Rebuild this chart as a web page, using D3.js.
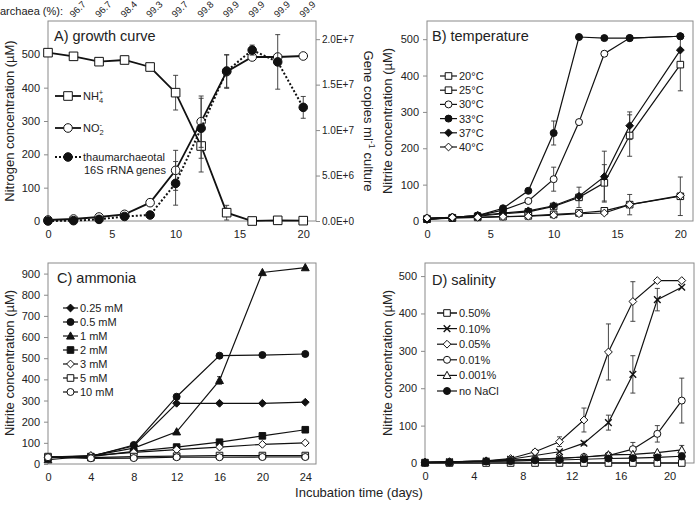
<!DOCTYPE html>
<html><head><meta charset="utf-8">
<script src="https://cdn.jsdelivr.net/npm/d3@7"></script>
<style>
body{margin:0;background:#fff}
text{font-family:"Liberation Sans",Arial,sans-serif;fill:#222}
</style>
</head><body><svg id="c" width="696" height="505"></svg>
<script>
// ---------- Panel A: growth curve ----------
const daysA = [0,2,4,6,8,10,12,14,16,18,20];
const nh4   = [505,494,478,483,462,385,225,25,0,2,1];
const nh4Err= [0,0,0,0,0,52,78,22,0,0,0];
const no2   = [3,6,12,20,55,152,298,448,492,492,495];
const no2Err= [0,0,0,0,10,60,77,50,0,0,0];
const genes = [0,3.7e4,1.8e5,5.0e5,6.6e5,4.14e6,1.02e7,1.65e7,1.88e7,1.75e7,1.25e7];
const genesErr=[0,0,0,0,3e5,2.4e6,3.3e6,1.8e6,5.5e5,3.0e6,1.2e6];
const archaeaDays = [2,4,6,8,10,12,14,16,18,20];
const archaeaPct  = ["96.7","96.7","98.4","99.3","99.7","99.8","99.9","99.9","99.9","99.9"];
const ticksA = [0,5,10,15,20];
const yTicksA = [0,100,200,300,400,500];
const yTicksA2 = [0,5e6,1e7,1.5e7,2e7];

// ---------- Panel B: temperature ----------
const daysB = [0,2,4,6,8,10,12,14,16,20];
const t20 = [5,8,10,12,14,18,22,28,45,68];
const t25 = [5,9,13,20,25,40,65,105,235,430];
const t30 = [8,10,15,30,55,115,272,460,503,508];
const t33 = [5,10,15,35,83,242,506,503,503,508];
const t37 = [4,10,15,22,28,42,68,122,262,470];
const t40 = [8,10,10,12,13,16,20,22,45,70];
const t20Err = [0,0,0,0,0,0,0,0,0,53];
const t25Err = [0,0,0,0,0,0,28,50,57,72];
const t30Err = [0,0,0,0,0,33,0,0,0,0];
const t33Err = [0,0,0,0,0,33,0,0,0,0];
const t37Err = [0,0,0,0,0,0,0,70,38,0];
const t40Err = [0,0,0,0,0,0,0,0,28,0];
const ticksB = [0,5,10,15,20];
const yTicksB = [0,100,200,300,400,500];

// ---------- Panel C: ammonia ----------
const daysC = [0,4,8,12,16,20,24];
const a025 = [30,38,85,287,287,287,292];
const a05  = [30,35,90,318,512,515,520];
const a1   = [20,38,75,152,395,905,928];
const a2   = [30,35,60,80,103,133,162];
const a3   = [33,40,55,68,80,93,100];
const a5   = [35,30,35,37,40,40,40];
const a10  = [32,27,28,32,32,33,33];
const a1Err= [0,0,0,0,18,0,0];
const ticksC = [0,4,8,12,16,20,24];
const yTicksC = [0,100,200,300,400,500,600,700,800,900];

// ---------- Panel D: salinity ----------
const daysD = [0,2,5,7,9,11,13,15,17,19,21];
const s050  = [0,0,0,0,0,0,0,0,0,0,0];
const s010  = [2,3,5,10,20,30,53,108,237,437,470];
const s005  = [2,3,6,12,30,57,115,297,432,488,488];
const s001  = [2,3,5,8,10,12,16,20,37,78,167];
const s0001 = [2,3,5,7,10,13,16,22,23,28,35];
const sNo   = [1,2,4,5,7,8,10,12,13,15,18];
const s010Err  = [0,0,0,0,0,0,5,20,50,30,0];
const s005Err  = [0,0,0,0,6,13,32,75,53,0,0];
const s001Err  = [0,0,0,0,0,0,0,0,18,22,60];
const s0001Err = [0,0,0,0,0,0,0,0,0,0,12];
const ticksD = [0,4,8,12,16,20];
const yTicksD = [0,100,200,300,400,500];

// ---------- drawing ----------
const svg = d3.select("#c");
const FRAME = "#8a8a8a";

function symPath(type, r){
  switch(type){
    case "circle": return `M${-r},0A${r},${r} 0 1,0 ${r},0A${r},${r} 0 1,0 ${-r},0Z`;
    case "square": return `M${-r},${-r}H${r}V${r}H${-r}Z`;
    case "diamond": { const q=r*1.3; return `M0,${-q}L${q},0L0,${q}L${-q},0Z`; }
    case "triangle": { const q=r*1.25; return `M0,${-q}L${q*0.95},${q*0.75}L${-q*0.95},${q*0.75}Z`; }
    case "x": return `M${-r},${-r}L${r},${r}M${-r},${r}L${r},${-r}`;
  }
}

function panel(o){
  const x = d3.scaleLinear().domain(o.xd).range([o.x0,o.x1]);
  const y = d3.scaleLinear().domain(o.yd).range([o.y1,o.y0]);
  const g = svg.append("g");
  g.append("rect").attr("x",o.x0).attr("y",o.y0).attr("width",o.x1-o.x0).attr("height",o.y1-o.y0)
    .attr("fill","none").attr("stroke",FRAME).attr("stroke-width",1);
  const ax = g.append("g").attr("transform",`translate(0,${o.y1})`)
    .call(d3.axisBottom(x).tickValues(o.xt).tickSize(0).tickPadding(9));
  const ay = g.append("g").attr("transform",`translate(${o.x0},0)`)
    .call(d3.axisLeft(y).tickValues(o.yt).tickSize(4).tickPadding(4));
  [ax,ay].forEach(a=>{
    a.select(".domain").remove();
    a.selectAll("line").attr("stroke",FRAME);
    a.selectAll("text").attr("font-size",11).attr("font-family","Liberation Sans, Arial").attr("fill","#222");
  });
  let y2=null;
  if(o.y2d){
    y2 = d3.scaleLinear().domain(o.y2d).range([o.y1,o.y0]);
    const ar = g.append("g").attr("transform",`translate(${o.x1},0)`)
      .call(d3.axisRight(y2).tickValues(o.y2t).tickSize(4).tickPadding(2)
        .tickFormat(d=>d3.format(".1e")(d).replace("e","E")));
    ar.select(".domain").remove();
    ar.selectAll("line").attr("stroke",FRAME);
    ar.selectAll("text").attr("font-size",10).attr("fill","#222");
  }
  // title
  g.append("text").attr("x",o.titleX).attr("y",o.titleY).attr("font-size",14.5).text(o.title);
  // series
  o.series.forEach(s=>{
    const ys = s.right ? y2 : y;
    const pts = s.vals.map((v,i)=>[x(o.days[i]), ys(v)]);
    g.append("path").attr("d",d3.line()(pts)).attr("fill","none").attr("stroke","#111")
      .attr("stroke-width",s.lw||1.2).attr("stroke-dasharray",s.dash||null);
    if(s.err){
      s.err.forEach((e,i)=>{
        if(!e) return;
        const cx=x(o.days[i]), t=ys(s.vals[i]+e), b=ys(s.vals[i]-e);
        g.append("path").attr("d",`M${cx},${t}V${b}M${cx-2.5},${t}H${cx+2.5}M${cx-2.5},${b}H${cx+2.5}`)
          .attr("stroke","#333").attr("stroke-width",0.9).attr("fill","none");
      });
    }
    pts.forEach(p=>{
      g.append("path").attr("transform",`translate(${p[0]},${p[1]})`).attr("d",symPath(s.sym,s.r||3.5))
        .attr("fill", s.sym==="x" ? "none" : (s.fill?"#111":"#fff"))
        .attr("stroke","#111").attr("stroke-width", s.sym==="x"?1.4:1);
    });
  });
  // legend
  o.legend.forEach((l,i)=>{
    const s=o.series[l.idx]; const ly=l.y!=null ? l.y : o.ly0+i*o.ldy;
    g.append("path").attr("d",`M${o.lx0},${ly}H${o.lx1}`).attr("stroke","#111")
      .attr("stroke-width",s.lw||1.2).attr("stroke-dasharray",s.dash||null);
    g.append("path").attr("transform",`translate(${(o.lx0+o.lx1)/2},${ly})`).attr("d",symPath(s.sym,s.r||3.5))
      .attr("fill", s.sym==="x" ? "none" : (s.fill?"#111":"#fff")).attr("stroke","#111").attr("stroke-width", s.sym==="x"?1.4:1);
    const t = g.append("text").attr("x",o.lx1+2).attr("y",ly+4).attr("font-size",o.lfs||11.5);
    if(l.html) l.html(t); else t.text(l.label);
  });
  return {x,y,y2};
}

// Panel A
const A = panel({x0:48,x1:316,y0:21,y1:221,xd:[0,21],yd:[0,600],xt:ticksA,yt:yTicksA,
  y2d:[0,2.2e7],y2t:yTicksA2,days:daysA,title:"A) growth curve",titleX:54,titleY:41,
  series:[
    {vals:nh4,sym:"square",fill:false,err:nh4Err,lw:1.8,r:4.3},
    {vals:no2,sym:"circle",fill:false,err:no2Err,lw:1.8,r:4.3},
    {vals:genes,sym:"circle",fill:true,err:genesErr,right:true,lw:2,dash:"2,2",r:4.3}
  ],
  lx0:55,lx1:81,lfs:11,
  legend:[
    {idx:0,y:96,html:t=>{t.text("NH");t.append("tspan").attr("font-size",7.5).attr("dy",3).text("4");t.append("tspan").attr("font-size",7.5).attr("dx",-4.2).attr("dy",-8).text("+");}},
    {idx:1,y:128,html:t=>{t.text("NO");t.append("tspan").attr("font-size",7.5).attr("dy",3).text("2");t.append("tspan").attr("font-size",7.5).attr("dx",-4.2).attr("dy",-8).text("-");}},
    {idx:2,y:157,html:t=>{t.text("thaumarchaeotal");t.append("tspan").attr("x",84).attr("dy",13).text("16S rRNA genes");}}
  ]});
// archaea labels
svg.append("text").attr("x",0).attr("y",15).attr("font-size",11).text("archaea (%):");
archaeaPct.forEach((p,i)=>{
  const px=A.x(archaeaDays[i]);
  svg.append("text").attr("transform",`translate(${px},18) rotate(-45)`).attr("font-size",9.5).text(p);
});
svg.append("text").attr("transform","translate(14,121) rotate(-90)").attr("text-anchor","middle").attr("font-size",13)
  .text("Nitrogen concentration (µM)");
const gl = svg.append("text").attr("transform","translate(364,121) rotate(90)").attr("text-anchor","middle").attr("font-size",13);
gl.append("tspan").text("Gene copies ml");
gl.append("tspan").attr("font-size",9).attr("dy",-5).text("-1");
gl.append("tspan").attr("dy",5).text(" culture");

// Panel B
panel({x0:427,x1:693,y0:21,y1:221,xd:[0,21],yd:[0,550],xt:ticksB,yt:yTicksB,days:daysB,
  title:"B) temperature",titleX:432,titleY:41,
  series:[
    {vals:t20,sym:"square",fill:false,err:t20Err,r:3.3},
    {vals:t25,sym:"square",fill:false,err:t25Err,r:3.3},
    {vals:t30,sym:"circle",fill:false,err:t30Err,r:3.5},
    {vals:t33,sym:"circle",fill:true,err:t33Err,r:3.5},
    {vals:t37,sym:"diamond",fill:true,err:t37Err,r:3},
    {vals:t40,sym:"diamond",fill:false,err:t40Err,r:3}
  ],
  lx0:440,lx1:457,ly0:76,ldy:14.2,lfs:11,
  legend:[{idx:0,label:"20°C"},{idx:1,label:"25°C"},{idx:2,label:"30°C"},{idx:3,label:"33°C"},{idx:4,label:"37°C"},{idx:5,label:"40°C"}]});
svg.append("text").attr("transform","translate(392,121) rotate(-90)").attr("text-anchor","middle").attr("font-size",13)
  .text("Nitrite concentration (µM)");

// Panel C
panel({x0:48,x1:316,y0:263,y1:464,xd:[0,25],yd:[0,950],xt:ticksC,yt:yTicksC,days:daysC,
  title:"C) ammonia",titleX:57,titleY:283,
  series:[
    {vals:a025,sym:"diamond",fill:true,r:3},
    {vals:a05,sym:"circle",fill:true,r:3.5},
    {vals:a1,sym:"triangle",fill:true,err:a1Err,r:3.3},
    {vals:a2,sym:"square",fill:true,r:3.3},
    {vals:a3,sym:"diamond",fill:false,r:3},
    {vals:a5,sym:"square",fill:false,r:3.3},
    {vals:a10,sym:"circle",fill:false,r:3.5}
  ],
  lx0:63,lx1:78,ly0:308,ldy:14,lfs:11,
  legend:[{idx:0,label:"0.25 mM"},{idx:1,label:"0.5 mM"},{idx:2,label:"1 mM"},{idx:3,label:"2 mM"},{idx:4,label:"3 mM"},{idx:5,label:"5 mM"},{idx:6,label:"10 mM"}]});
svg.append("text").attr("transform","translate(14,363) rotate(-90)").attr("text-anchor","middle").attr("font-size",13)
  .text("Nitrite concentration (µM)");

// Panel D
panel({x0:425,x1:694,y0:263,y1:463,xd:[0,22],yd:[0,535],xt:ticksD,yt:yTicksD,days:daysD,
  title:"D) salinity",titleX:432,titleY:285,
  series:[
    {vals:s050,sym:"square",fill:false,r:3.3,lw:1.5},
    {vals:s010,sym:"x",fill:false,err:s010Err,r:3.3},
    {vals:s005,sym:"diamond",fill:false,err:s005Err,r:3},
    {vals:s001,sym:"circle",fill:false,err:s001Err,r:3.5},
    {vals:s0001,sym:"triangle",fill:false,err:s0001Err,r:3.3},
    {vals:sNo,sym:"circle",fill:true,r:3.5}
  ],
  lx0:437,lx1:457,ly0:313,ldy:15.6,lfs:11,
  legend:[{idx:0,label:"0.50%"},{idx:1,label:"0.10%"},{idx:2,label:"0.05%"},{idx:3,label:"0.01%"},{idx:4,label:"0.001%"},{idx:5,label:"no NaCl"}]});
svg.append("text").attr("transform","translate(392,363) rotate(-90)").attr("text-anchor","middle").attr("font-size",13)
  .text("Nitrite concentration (µM)");

svg.append("text").attr("x",359).attr("y",497).attr("text-anchor","middle").attr("font-size",13).text("Incubation time (days)");
</script>
</body></html>
